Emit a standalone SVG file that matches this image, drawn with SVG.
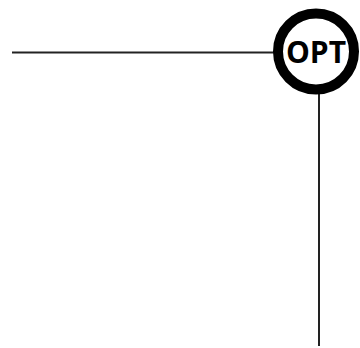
<svg xmlns="http://www.w3.org/2000/svg" width="360" height="348" viewBox="0 0 360 348">
<style>
.conn{stroke:#222;stroke-width:2;fill:none}
.ring{fill:#fff;stroke:#000;stroke-width:10}
.lbl{font-family:"Open Sans",sans-serif;font-weight:bold;font-size:30px;fill:#000;text-anchor:middle}
</style>
<rect width="360" height="348" fill="#fff"/>
<g id="connectors">
<line class="conn" x1="12" y1="52.5" x2="276" y2="52.5"/>
<line class="conn" x1="319" y1="90" x2="319" y2="346"/>
</g>
<g id="opt">
<circle class="ring" cx="316" cy="51.5" r="38"/>
<text class="lbl" x="316" y="63">OPT</text>
</g>
</svg>
